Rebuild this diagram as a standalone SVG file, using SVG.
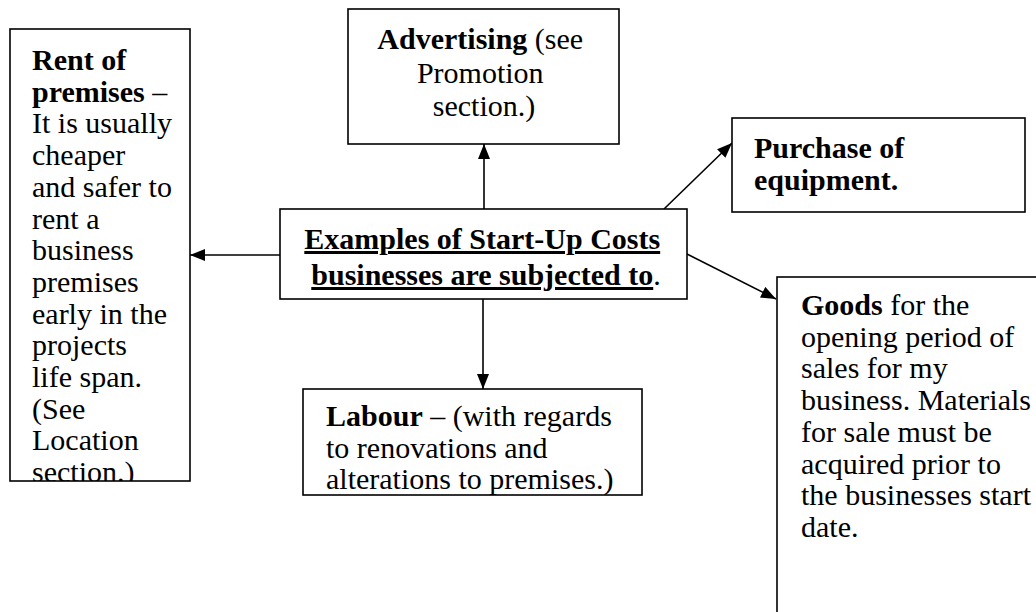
<svg xmlns="http://www.w3.org/2000/svg" width="1036" height="612" viewBox="0 0 1036 612">
  <style>
    .box { fill: #ffffff; stroke: #000000; stroke-width: 1.6; }
    .txt { font-family: "Liberation Serif", "Times New Roman", serif; font-size: 30px; fill: #000000; }
    .b { font-weight: bold; }
    .u { text-decoration: underline; }
    .conn { stroke: #000000; stroke-width: 1.6; fill: none; marker-end: url(#arrow); }
  </style>
  <defs>
    <marker id="arrow" markerUnits="userSpaceOnUse" markerWidth="15" markerHeight="12" refX="15" refY="6" orient="auto">
      <path d="M0,0 L15,6 L0,12 Z" fill="#000000"/>
    </marker>
    <clipPath id="clipRent"><rect x="10" y="29" width="180" height="452"/></clipPath>
    <clipPath id="clipLabour"><rect x="303" y="389" width="339" height="106"/></clipPath>
  </defs>
  <rect width="1036" height="612" fill="#ffffff"/>

  <!-- connectors from the central box -->
  <g id="connectors">
    <line class="conn" x1="280" y1="255" x2="190" y2="255"/>
    <line class="conn" x1="484" y1="209" x2="484" y2="144"/>
    <line class="conn" x1="483" y1="299" x2="483" y2="389"/>
    <line class="conn" x1="664" y1="209" x2="732" y2="143"/>
    <line class="conn" x1="687" y1="254" x2="776" y2="299"/>
  </g>

  <g id="rent">
    <rect class="box" x="10" y="29" width="180" height="452"/>
    <text class="txt" clip-path="url(#clipRent)">
      <tspan x="32" y="70" class="b">Rent of</tspan>
      <tspan x="32" y="101.7"><tspan class="b">premises</tspan> –</tspan>
      <tspan x="32" y="133.4">It is usually</tspan>
      <tspan x="32" y="165.1">cheaper</tspan>
      <tspan x="32" y="196.8">and safer to</tspan>
      <tspan x="32" y="228.5">rent a</tspan>
      <tspan x="32" y="260.2">business</tspan>
      <tspan x="32" y="291.9">premises</tspan>
      <tspan x="32" y="323.6">early in the</tspan>
      <tspan x="32" y="355.3">projects</tspan>
      <tspan x="32" y="387">life span.</tspan>
      <tspan x="32" y="418.7">(See</tspan>
      <tspan x="32" y="450.4">Location</tspan>
      <tspan x="32" y="482.1">section.)</tspan>
    </text>
  </g>

  <g id="advertising">
    <rect class="box" x="348" y="9" width="271" height="135"/>
    <text class="txt" text-anchor="middle">
      <tspan x="484" y="49"><tspan class="b">Advertising</tspan> (see</tspan>
      <tspan x="484" y="82.5">Promotion</tspan>
      <tspan x="484" y="116">section.)</tspan>
    </text>
  </g>

  <g id="purchase">
    <rect class="box" x="732" y="118" width="293" height="94"/>
    <text class="txt b">
      <tspan x="754" y="158">Purchase of</tspan>
      <tspan x="754" y="190">equipment.</tspan>
    </text>
  </g>

  <g id="startup">
    <rect class="box" x="280" y="209" width="407" height="90"/>
    <text class="txt" text-anchor="middle">
      <tspan x="486" y="249" class="b u">Examples of Start-Up Costs</tspan>
      <tspan x="486" y="285"><tspan class="b u">businesses are subjected to</tspan>.</tspan>
    </text>
  </g>

  <g id="goods">
    <rect class="box" x="777" y="277" width="300" height="360"/>
    <text class="txt">
      <tspan x="801" y="315"><tspan class="b">Goods</tspan> for the</tspan>
      <tspan x="801" y="346.7">opening period of</tspan>
      <tspan x="801" y="378.4">sales for my</tspan>
      <tspan x="801" y="410.1">business. Materials</tspan>
      <tspan x="801" y="441.8">for sale must be</tspan>
      <tspan x="801" y="473.5">acquired prior to</tspan>
      <tspan x="801" y="505.2">the businesses start</tspan>
      <tspan x="801" y="536.9">date.</tspan>
    </text>
  </g>

  <g id="labour">
    <rect class="box" x="303" y="389" width="339" height="106"/>
    <text class="txt" clip-path="url(#clipLabour)">
      <tspan x="326" y="426"><tspan class="b">Labour</tspan> – (with regards</tspan>
      <tspan x="326" y="457.7">to renovations and</tspan>
      <tspan x="326" y="489.4">alterations to premises.)</tspan>
    </text>
  </g>
</svg>
